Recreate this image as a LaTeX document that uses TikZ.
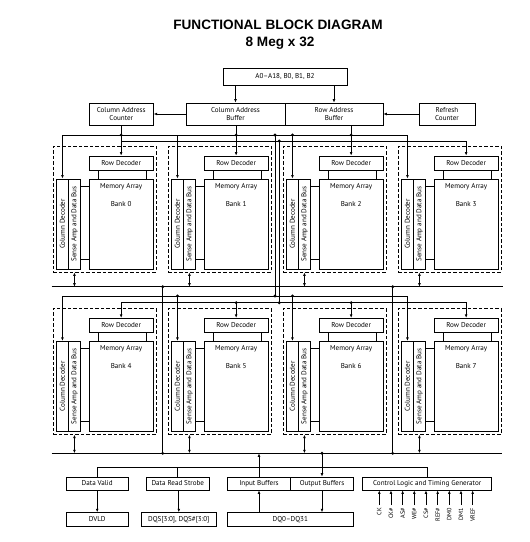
\documentclass[tikz,border=0pt]{standalone}
\usepackage{fontspec}
\setmainfont{PT Sans}
\newfontfamily\titlefont{Liberation Sans}
\usetikzlibrary{arrows.meta,positioning,calc}

\begin{document}
\begin{tikzpicture}[x=1pt, y=-1pt, line width=0.7pt,
        blk/.style={rectangle, draw=black, line width=0.7pt, inner sep=0pt, align=center, font=\fontsize{7.1}{8}\selectfont},
        bankframe/.style={rectangle, draw=black, dash pattern=on 3.5pt off 2pt, line width=0.7pt, inner sep=0pt},
        lbl/.style={inner sep=0pt, font=\fontsize{7.1}{8}\selectfont},
        sig/.style={-{Latex[length=3.5pt,width=2.8pt]}},
        dsig/.style={{Latex[length=3.5pt,width=2.8pt]}-{Latex[length=3.5pt,width=2.8pt]}}
    ]

    \useasboundingbox (0,0) rectangle (530,542);

    \def\bx{53.3}  % left edge of bank 0
    \def\bp{115}   % bank pitch
    \def\by{146}   % top edge of upper bank row
    \def\rp{162.3} % row pitch

    % Title
    \node[font=\titlefont\bfseries\fontsize{13.6}{15}\selectfont] (ttl) at (278,25) {FUNCTIONAL BLOCK DIAGRAM};
    \node[font=\titlefont\bfseries\fontsize{13.6}{15}\selectfont] (sub) at (280,43) {8 Meg x 32};

    % Address inputs and buffers
    \node[blk, minimum width=124pt, minimum height=17pt] (addr) at (285,76.5) {A0--A18, B0, B1, B2};
    \node[blk, minimum width=64pt, minimum height=22pt] (cac) at (121.3,114) {Column Address\\Counter};
    \node[blk, minimum width=99pt, minimum height=22pt] (cab) at (235.5,114) {Column Address\\Buffer};
    \node[blk, minimum width=98pt, minimum height=22pt] (rab) at (334,114) {Row Address\\Buffer};
    \node[blk, minimum width=56pt, minimum height=22pt] (rfc) at (447,114) {Refresh\\Counter};

    \draw[sig] (addr.south -| cab.north) -- (cab.north);
    \draw[sig] (addr.south -| rab.north) -- (rab.north);
    \draw[sig] (cab.west) -- (cac.east);
    \draw[sig] (rfc.west) -- (rab.east);

    % Bus levels
    \coordinate (colL0) at (0,135);
    \coordinate (rowL0) at (0,141);
    \coordinate (colL1) at (0,296);
    \coordinate (rowL1) at (0,302.7);
    \coordinate (bus0) at (51.7,286.7);
    \coordinate (bus0e) at (503,286.7);
    \coordinate (bus1) at (51.7,453.3);
    \coordinate (bus1e) at (502,453.3);
    \coordinate (ctl) at (0,467.7);

    % Banks
    \foreach \i in {0,...,7} {
        \pgfmathtruncatemacro{\bRow}{\i/4}
        \pgfmathtruncatemacro{\bCol}{mod(\i,4)}
        \pgfmathsetmacro{\x}{\bx+\bCol*\bp}
        \pgfmathsetmacro{\y}{\by+\bRow*\rp}
        \node[bankframe, minimum width=102.7pt, minimum height=126pt] (bk\i) at (\x+51.35,\y+63) {};
        \node[blk, minimum width=63.7pt, minimum height=14pt] (rd\i) at (\x+67.85,\y+17) {Row Decoder};
        \node[blk, minimum width=63.7pt, minimum height=90pt] (ma\i) at (\x+67.85,\y+78) {};
        \node[blk, rotate=90, minimum width=90pt, minimum height=11.7pt] (cd\i) at (\x+9.15,\y+78) {Column Decoder};
        \node[blk, rotate=90, minimum width=90pt, minimum height=12.3pt] (sa\i) at (\x+21.15,\y+78) {Sense Amp and Data Bus};
        \node[lbl, below=4pt of ma\i.north] (mt\i) {Memory Array};
        \node[lbl, below=11pt of mt\i] (bn\i) {Bank \i};
        \draw ($(rd\i.south)+(-23,0)$) -- ($(ma\i.north)+(-23,0)$);
        \draw ($(rd\i.south)+(25,0)$) -- ($(ma\i.north)+(25,0)$);
        \coordinate (up\i) at ($(ma\i.north west)+(0,7.7)$);
        \coordinate (lo\i) at ($(ma\i.south west)+(0,-10)$);
        \draw (sa\i.south |- up\i) -- (up\i);
        \draw (sa\i.south |- lo\i) -- (lo\i);
        \draw[dsig] (sa\i.center |- bk\i.south) -- (sa\i.center |- bus\bRow);
    }

    % Column and row address lines
    \foreach \rw/\a/\b in {0/0/3,1/4/7} {
        \draw[dsig] (cd\a.east) -- (cd\a.east |- colL\rw) -- (cd\b.east |- colL\rw) -- (cd\b.east);
    }
    \foreach \i/\rw in {1/0,2/0,5/1,6/1} {
        \draw[sig] (cd\i.east |- colL\rw) -- (cd\i.east);
    }
    \draw[sig] (rd0.north |- cac.south) -- (rd0.north);
    \draw[sig] (rd1.north |- cab.south) -- (rd1.north);
    \draw[sig] (rd2.north |- rab.south) -- (rd2.north);
    \draw[sig] (rd0.north |- rowL0) -- (rd3.north |- rowL0) -- (rd3.north);
    \draw[dsig] (rd4.north) -- (rd4.north |- rowL1) -- (rd7.north |- rowL1) -- (rd7.north);
    \foreach \i in {5,6} {
        \draw[sig] (rd\i.north |- rowL1) -- (rd\i.north);
    }

    \coordinate (clink) at (275,0);
    \coordinate (rlink) at (279.3,0);
    \draw (clink |- colL0) -- (clink |- colL1);
    \draw (rlink |- rowL0) -- (rlink |- rowL1);

    % Data buses
    \draw (bus0) -- (bus0e);
    \draw (bus1) -- (bus1e);
    \coordinate (dlink) at (162.7,0);
    \coordinate (elink) at (392.7,0);
    \draw (dlink |- bus0) -- (dlink |- bus1);
    \draw (elink |- bus0) -- (elink |- bus1);

    % Bottom blocks
    \node[blk, minimum width=62.3pt, minimum height=13pt] (dv) at (97.2,483.5) {Data Valid};
    \node[blk, minimum width=62.3pt, minimum height=13.3pt] (dvld) at (97.2,519.3) {DVLD};
    \node[blk, minimum width=62.3pt, minimum height=13pt] (drs) at (177.8,483.5) {Data Read Strobe};
    \node[blk, minimum width=74.3pt, minimum height=13.3pt] (dqs) at (178.8,519.3) {DQS[3:0], DQS\#[3:0]};
    \node[blk, minimum width=63.4pt, minimum height=13pt] (ib) at (259,483.5) {Input Buffers};
    \node[blk, minimum width=62.6pt, minimum height=13pt] (ob) at (322,483.5) {Output Buffers};
    \node[blk, minimum width=126pt, minimum height=13.3pt] (dq) at (290.3,519.3) {DQ0--DQ31};
    \node[blk, minimum width=129pt, minimum height=13pt] (cl) at (427.2,483.5) {Control Logic and Timing Generator};

    \draw (dv.north) -- (dv.north |- ctl) -- (cl.north |- ctl) -- (cl.north);
    \draw (drs.north |- ctl) -- (drs.north);
    \draw[sig] (dv.south) -- (dvld.north);
    \draw[sig] (drs.south -| dqs.north) -- (dqs.north);
    \draw[sig] (ib.north) -- (ib.north |- bus1);
    \draw[sig] (ib.south |- dq.north) -- (ib.south);
    \draw[sig] (ob.north |- bus1) -- (ob.north);
    \draw[sig] (ob.south) -- (ob.south |- dq.north);

    % Control inputs
    \foreach \s [count=\k from 0] in {CK,CK\#,AS\#,WE\#,CS\#,REF\#,DM0,DM1,VREF} {
        \coordinate (sg\k) at (379.3+11.67*\k,505);
        \draw[sig] (sg\k) -- (sg\k |- cl.south);
        \node[lbl, rotate=90, anchor=east, font=\fontsize{6.2}{6.2}\selectfont] (sn\k) at ($(sg\k)+(0,2.5)$) {\s};
    }

    % Junction dots
    \foreach \p in {rd0,rd1,clink,cd2,rd2} {
        \fill (\p |- colL0) circle (1.6pt);
    }
    \fill (rlink |- rowL0) circle (1.6pt);
    \foreach \p in {clink,cd5,cd6} {
        \fill (\p |- colL1) circle (1.6pt);
    }
    \foreach \p in {rlink,rd5,rd6} {
        \fill (\p |- rowL1) circle (1.6pt);
    }
    \foreach \p in {dlink,elink} {
        \fill (\p |- bus0) circle (1.6pt);
        \fill (\p |- bus1) circle (1.6pt);
    }
    \fill (ob |- bus1) circle (1.6pt);

\end{tikzpicture}
\end{document}
